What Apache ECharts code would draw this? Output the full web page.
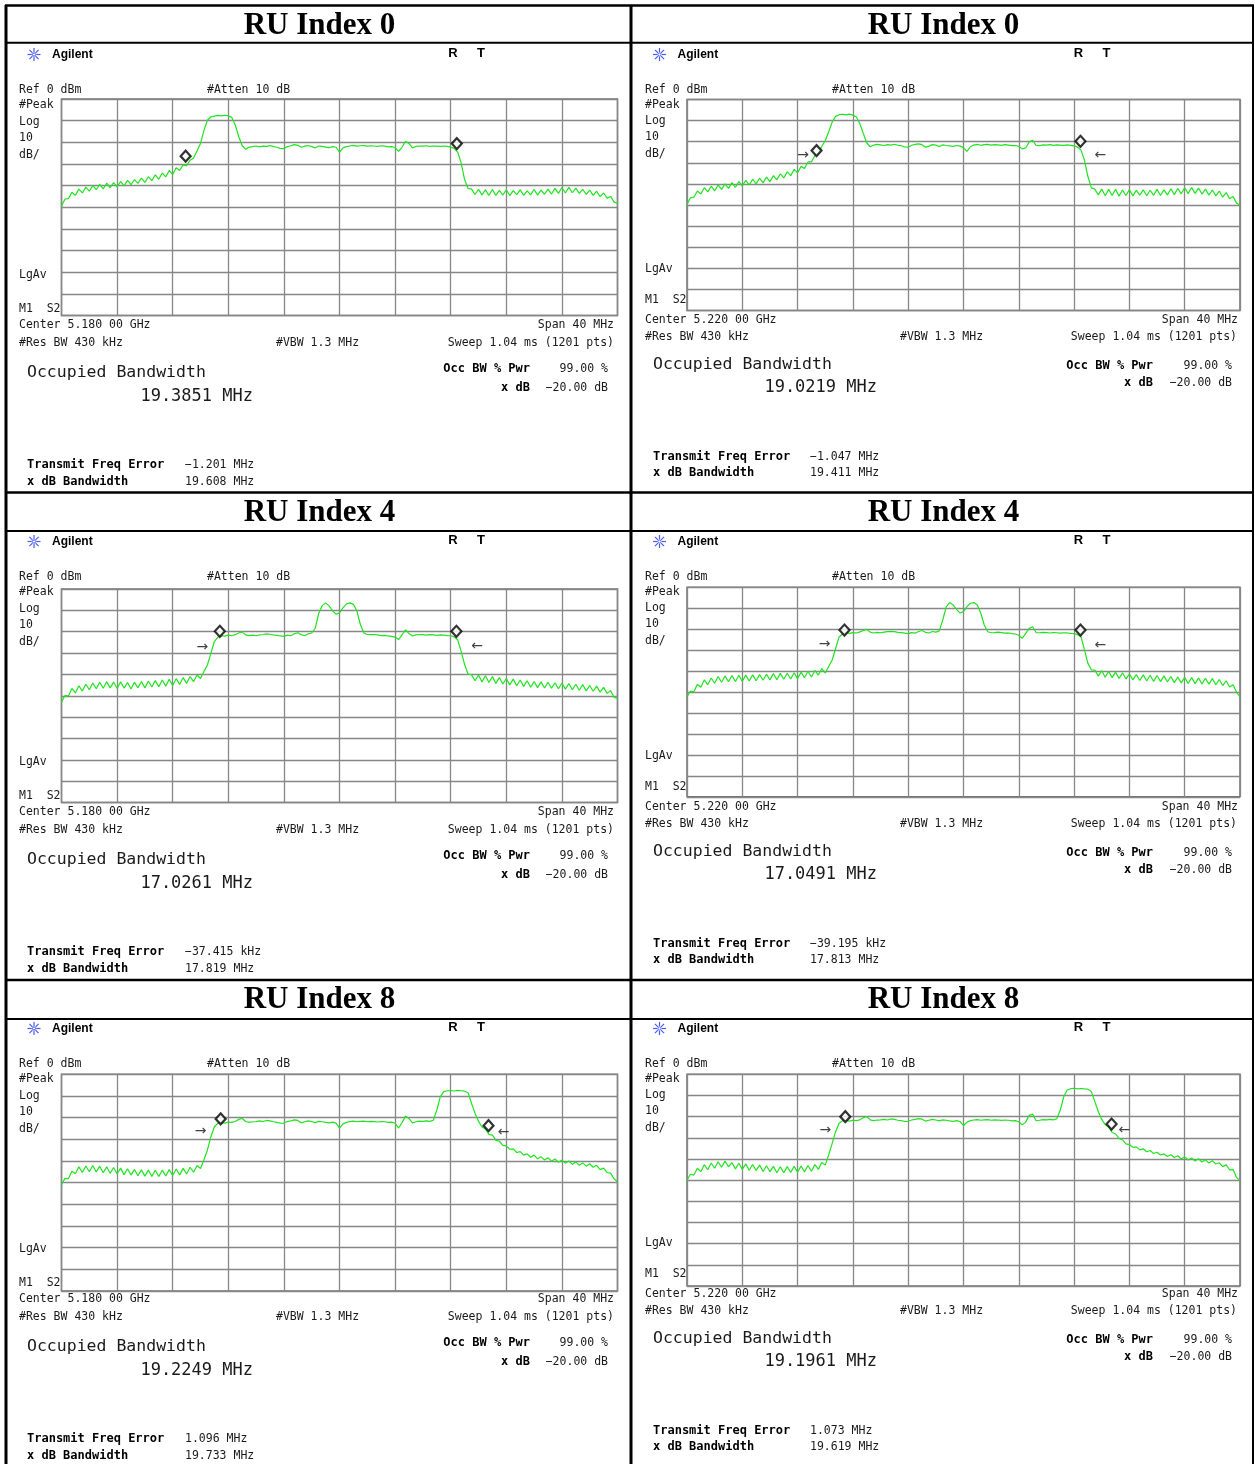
<!DOCTYPE html>
<html><head><meta charset="utf-8">
<script src="https://cdn.jsdelivr.net/npm/echarts/dist/echarts.min.js"></script>
<style>html,body{margin:0;padding:0;background:#fff}#c{width:1255px;height:1464px}</style>
</head><body><div id="c"></div>
<script>
// ---- sweep definition (40 MHz span, 0.25 MHz per stored point) ----
const FREQ_START = -20, FREQ_STEP = 0.25;
const X_MIN = -20, X_MAX = 20, X_INTERVAL = 4;     // MHz offset from center
const Y_MIN = -100, Y_MAX = 0, Y_INTERVAL = 10;     // dBm, Ref 0 dBm, 10 dB/div

// ---- panel texts ----
const TITLES = ['RU Index 0','RU Index 0','RU Index 4','RU Index 4','RU Index 8','RU Index 8'];
const CENTERS = ['Center 5.180 00 GHz','Center 5.220 00 GHz','Center 5.180 00 GHz','Center 5.220 00 GHz','Center 5.180 00 GHz','Center 5.220 00 GHz'];
const OCC_BW = ['19.3851 MHz','19.0219 MHz','17.0261 MHz','17.0491 MHz','19.2249 MHz','19.1961 MHz'];
const FREQ_ERR = ['\u22121.201 MHz','\u22121.047 MHz','\u221237.415 kHz','\u221239.195 kHz','1.096 MHz','1.073 MHz'];
const XDB_BW = ['19.608 MHz','19.411 MHz','17.819 MHz','17.813 MHz','19.733 MHz','19.619 MHz'];

// ---- traces (dBm), one value per 0.25 MHz from -20 to +20 MHz ----
const TRACE_RU0_L = [
-49.5,-46.2,-46.0,-43.1,-44.5,-41.6,-43.4,-40.7,-42.6,-40.0,-41.9,-39.4,-41.5,-38.9,-41.0,-38.6,-40.6,-38.1,-40.1,-37.6,
-39.6,-37.2,-39.0,-36.5,-38.5,-35.9,-37.7,-35.0,-37.1,-34.2,-36.0,-33.0,-34.9,-31.8,-33.0,-30.4,-30.8,-28.3,-27.2,-24.0,
-20.5,-14.5,-9.8,-8.2,-7.9,-7.6,-7.8,-7.5,-7.8,-8.5,-12.0,-17.3,-21.6,-23.2,-22.2,-22.0,-21.7,-22.1,-21.8,-21.9,
-21.5,-22.0,-22.3,-22.8,-22.9,-22.0,-21.6,-21.1,-21.4,-22.3,-21.8,-21.5,-22.0,-22.6,-21.7,-21.9,-22.2,-22.5,-22.0,-22.3,
-24.6,-22.6,-22.0,-21.7,-21.4,-21.8,-21.6,-21.5,-21.8,-21.6,-21.7,-21.9,-21.6,-21.8,-22.1,-22.0,-22.4,-24.2,-22.3,-19.6,
-20.5,-22.6,-21.9,-21.7,-21.8,-21.6,-21.9,-21.7,-21.8,-21.9,-21.7,-21.9,-22.2,-22.8,-24.5,-29.5,-37.2,-41.3,-41.6,-44.1,
-41.7,-44.3,-42.0,-44.6,-41.8,-44.5,-42.2,-44.4,-41.9,-44.6,-42.3,-44.2,-42.0,-44.5,-42.4,-44.3,-41.8,-44.4,-42.1,-44.0,
-41.6,-43.9,-41.3,-43.6,-40.9,-43.4,-40.8,-43.3,-41.2,-43.6,-41.7,-44.1,-42.1,-44.5,-42.6,-45.1,-43.4,-45.8,-45.0,-47.5,
-48.2];
const TRACE_RU0_R = [
-49.7,-46.6,-46.3,-43.4,-44.8,-41.8,-43.8,-41.1,-43.3,-40.5,-42.6,-40.0,-42.1,-39.4,-41.6,-38.9,-41.0,-38.3,-40.5,-37.8,
-40.0,-37.3,-39.5,-36.8,-38.9,-36.1,-38.1,-35.2,-37.2,-34.3,-36.1,-33.1,-34.7,-31.7,-32.7,-29.6,-29.6,-26.5,-25.4,-22.3,
-19.4,-15.3,-10.7,-8.0,-7.2,-7.0,-7.3,-6.9,-7.4,-8.3,-11.4,-16.1,-20.5,-22.4,-21.6,-21.3,-21.5,-21.8,-21.4,-21.6,
-21.2,-21.7,-21.9,-22.5,-22.6,-21.7,-21.3,-21.0,-21.4,-22.6,-22.1,-21.4,-21.6,-22.3,-21.5,-21.8,-22.0,-22.2,-21.8,-22.1,
-22.8,-24.6,-22.4,-21.6,-21.3,-21.7,-21.4,-21.3,-21.6,-21.4,-21.5,-21.7,-21.4,-21.6,-21.9,-21.8,-22.2,-23.4,-23.0,-20.1,
-19.3,-21.8,-21.9,-21.5,-21.6,-21.4,-21.7,-21.5,-21.6,-21.7,-21.5,-21.7,-22.0,-22.6,-24.0,-28.8,-36.5,-41.9,-42.5,-45.2,
-42.4,-45.6,-42.6,-45.5,-42.5,-45.8,-42.9,-45.5,-42.7,-45.7,-43.1,-45.3,-42.8,-45.6,-43.0,-45.4,-42.6,-45.5,-42.8,-45.2,
-42.3,-45.1,-42.2,-44.7,-41.8,-44.6,-41.7,-44.5,-42.0,-44.8,-42.5,-45.3,-42.9,-45.7,-43.4,-46.3,-44.1,-47.0,-46.0,-49.1,
-50.0];
const TRACE_RU4_L = [
-53.0,-49.9,-50.1,-46.6,-48.7,-45.3,-47.8,-44.6,-47.2,-44.0,-46.7,-43.7,-46.5,-43.4,-46.3,-43.6,-46.6,-43.5,-46.4,-43.8,
-46.8,-43.7,-46.2,-43.3,-46.3,-43.2,-45.9,-42.9,-45.8,-42.6,-45.5,-42.3,-45.2,-42.0,-44.7,-41.5,-44.2,-41.0,-43.4,-40.3,
-41.9,-38.6,-35.6,-30.0,-24.6,-22.5,-21.9,-22.1,-21.6,-21.9,-21.4,-20.6,-20.1,-21.5,-21.8,-21.6,-21.9,-21.5,-21.3,-21.0,
-21.2,-21.5,-21.7,-22.0,-22.2,-21.6,-21.9,-21.0,-20.5,-21.4,-21.9,-21.0,-20.6,-18.5,-11.5,-7.8,-6.5,-7.9,-10.2,-11.8,
-11.2,-8.8,-7.0,-6.5,-7.2,-10.3,-16.6,-20.6,-21.3,-21.4,-21.3,-21.5,-21.8,-21.7,-22.0,-22.2,-22.5,-23.7,-21.5,-19.1,
-20.9,-22.0,-21.5,-21.3,-21.4,-21.6,-21.4,-21.5,-21.7,-21.5,-21.6,-21.8,-21.9,-22.4,-23.8,-29.1,-35.4,-39.9,-40.1,-43.0,
-40.3,-43.5,-40.6,-43.8,-41.0,-44.2,-41.5,-44.5,-41.9,-44.9,-42.2,-45.3,-42.6,-45.6,-43.0,-46.0,-43.3,-46.2,-43.5,-46.4,
-43.7,-46.5,-43.9,-46.7,-44.0,-46.9,-44.3,-47.2,-44.6,-47.4,-44.8,-47.7,-45.2,-47.9,-45.5,-48.3,-46.1,-48.9,-47.6,-50.7,
-51.4];
const TRACE_RU4_R = [
-52.2,-49.6,-49.9,-46.3,-47.7,-44.2,-46.5,-43.3,-45.8,-42.6,-45.3,-42.3,-45.1,-42.1,-45.0,-42.0,-44.9,-41.9,-44.7,-41.8,
-44.6,-41.6,-44.4,-41.5,-44.2,-41.2,-44.1,-41.1,-43.9,-41.0,-43.8,-40.8,-43.6,-40.5,-43.2,-40.1,-42.8,-39.7,-41.9,-38.8,
-40.9,-37.8,-34.7,-29.2,-23.7,-22.3,-21.7,-22.0,-21.6,-21.8,-21.3,-20.6,-20.1,-21.4,-21.8,-21.5,-21.7,-21.4,-21.2,-21.0,
-21.2,-21.5,-21.6,-21.9,-22.1,-21.6,-21.9,-21.1,-20.6,-21.5,-21.8,-21.1,-21.4,-20.8,-15.6,-9.3,-7.3,-8.4,-10.5,-12.3,
-11.6,-9.2,-7.6,-7.3,-8.4,-12.4,-18.0,-21.2,-21.7,-21.6,-21.4,-21.6,-21.9,-21.8,-22.1,-22.3,-22.9,-24.4,-22.0,-19.6,
-18.8,-21.6,-21.7,-21.5,-21.6,-21.8,-21.6,-21.7,-21.9,-21.7,-21.8,-22.0,-22.1,-22.6,-23.6,-29.9,-36.3,-39.4,-39.5,-42.4,
-39.8,-42.9,-40.1,-43.1,-40.5,-43.5,-40.8,-43.8,-41.3,-44.2,-41.6,-44.5,-41.8,-44.7,-42.0,-44.9,-42.1,-45.0,-42.3,-45.2,
-42.6,-45.5,-42.8,-45.6,-43.0,-45.9,-43.1,-46.0,-43.3,-46.1,-43.4,-46.2,-43.6,-46.5,-44.0,-46.9,-44.6,-47.6,-46.5,-50.1,
-52.2];
const TRACE_RU8_L = [
-51.0,-48.0,-48.1,-44.7,-45.9,-42.7,-45.3,-42.3,-45.0,-42.1,-45.1,-42.4,-45.4,-42.7,-45.7,-43.0,-46.0,-43.3,-46.3,-43.6,
-46.5,-43.9,-46.8,-44.1,-47.0,-44.2,-47.1,-44.3,-47.2,-44.2,-46.9,-44.0,-46.7,-43.7,-46.4,-43.4,-46.0,-42.9,-45.2,-42.1,
-43.5,-39.4,-34.9,-28.8,-24.2,-22.6,-22.3,-22.5,-22.0,-22.2,-21.8,-20.8,-20.4,-21.8,-22.2,-21.9,-21.8,-21.5,-21.8,-21.3,
-21.5,-21.9,-22.2,-22.6,-22.5,-21.8,-21.5,-21.0,-21.3,-22.4,-21.9,-21.5,-21.8,-22.3,-21.7,-21.9,-22.2,-22.4,-22.1,-22.5,
-24.8,-22.9,-22.2,-21.8,-21.6,-21.9,-21.7,-21.6,-21.9,-21.7,-21.8,-22.0,-21.8,-21.9,-22.2,-22.1,-22.6,-24.8,-22.3,-19.3,
-20.4,-22.4,-21.9,-21.6,-21.7,-21.5,-21.7,-21.2,-16.6,-10.4,-8.0,-7.6,-7.5,-7.7,-7.4,-7.6,-7.8,-8.5,-13.4,-18.0,
-21.7,-24.3,-25.2,-27.8,-28.1,-30.4,-30.9,-32.8,-33.0,-34.6,-34.4,-36.1,-35.7,-37.3,-36.7,-38.3,-37.3,-39.0,-38.0,-39.6,
-38.5,-40.1,-39.1,-40.6,-39.6,-41.0,-40.0,-41.6,-40.4,-42.0,-40.9,-42.4,-41.3,-42.9,-42.0,-44.0,-43.3,-45.3,-45.6,-48.2,
-49.6];
const TRACE_RU8_R = [
-49.9,-47.2,-47.6,-44.4,-46.0,-42.7,-45.1,-41.9,-44.4,-41.3,-43.9,-41.0,-43.7,-41.7,-44.7,-42.0,-44.9,-42.3,-45.3,-42.6,
-45.4,-42.9,-45.9,-43.2,-46.0,-43.5,-46.5,-43.7,-46.5,-43.6,-46.4,-43.5,-46.2,-43.3,-46.1,-43.1,-45.8,-42.6,-44.9,-41.7,
-42.9,-38.0,-32.6,-27.1,-23.1,-22.0,-21.8,-22.1,-21.7,-21.9,-21.5,-20.5,-20.0,-21.5,-21.9,-21.6,-21.5,-21.3,-21.6,-21.1,
-21.3,-21.7,-21.9,-22.3,-22.2,-21.6,-21.3,-20.9,-21.2,-22.1,-21.7,-21.3,-21.6,-22.0,-21.5,-21.7,-22.0,-22.2,-21.9,-22.3,
-24.3,-22.6,-21.9,-21.6,-21.4,-21.7,-21.5,-21.4,-21.7,-21.5,-21.6,-21.8,-21.6,-21.7,-22.0,-21.9,-22.4,-23.9,-22.6,-19.4,
-18.8,-21.9,-21.7,-21.4,-21.5,-21.3,-21.5,-21.0,-16.9,-10.6,-7.4,-6.8,-6.6,-6.9,-6.7,-6.9,-7.0,-8.2,-12.9,-17.6,
-21.3,-23.8,-24.9,-27.5,-28.2,-30.3,-31.0,-32.9,-33.2,-34.5,-34.3,-35.7,-35.2,-36.6,-36.0,-37.4,-36.8,-38.1,-37.6,-38.8,
-38.0,-39.3,-38.5,-40.0,-39.0,-40.5,-39.5,-41.0,-39.9,-41.4,-40.4,-41.9,-40.8,-42.4,-41.8,-43.6,-42.8,-45.1,-45.0,-48.7,
-50.2];

// ---- markers [MHz, dBm] and band-edge arrows [MHz, dBm, glyph] ----
const MARKERS_RU0_L = [[-11.07,-26.4],[8.44,-20.6]];
const MARKERS_RU0_R = [[-10.63,-24.2],[8.46,-19.8]];
const MARKERS_RU4_L = [[-8.61,-19.8],[8.41,-19.8]];
const MARKERS_RU4_R = [[-8.61,-20.4],[8.46,-20.4]];
const MARKERS_RU8_L = [[-8.55,-20.6],[10.72,-23.7]];
const MARKERS_RU8_R = [[-8.55,-20.0],[10.71,-23.5]];
const ARROWS_RU0_L = [];
const ARROWS_RU0_R = [[-11.6,-26.4,'\u2192'],[9.9,-26.4,'\u2190']];
const ARROWS_RU4_L = [[-9.86,-27.3,'\u2192'],[9.9,-26.8,'\u2190']];
const ARROWS_RU4_R = [[-10.05,-27.0,'\u2192'],[9.9,-27.5,'\u2190']];
const ARROWS_RU8_L = [[-10.0,-26.5,'\u2192'],[11.8,-26.9,'\u2190']];
const ARROWS_RU8_R = [[-10.0,-26.3,'\u2192'],[11.63,-26.3,'\u2190']];

const TRACES = [TRACE_RU0_L,TRACE_RU0_R,TRACE_RU4_L,TRACE_RU4_R,TRACE_RU8_L,TRACE_RU8_R];
const MARKERS = [MARKERS_RU0_L,MARKERS_RU0_R,MARKERS_RU4_L,MARKERS_RU4_R,MARKERS_RU8_L,MARKERS_RU8_R];
const ARROWS = [ARROWS_RU0_L,ARROWS_RU0_R,ARROWS_RU4_L,ARROWS_RU4_R,ARROWS_RU8_L,ARROWS_RU8_R];

// ---- layout ----
const GRIDS = [
  {left:61.5, top:99,    width:556, height:216.5},
  {left:687,  top:99.5,  width:553, height:211},
  {left:61.5, top:589,   width:556, height:213.5},
  {left:687,  top:587.3, width:553, height:209.5},
  {left:61.5, top:1074.3,width:556, height:216.7},
  {left:687,  top:1074.3,width:553, height:211.7}
];
const ROW_TEXT_OFF = [0, 487, 974];
const TITLE_Y = [25.5, 513, 1000];
const MONO = '"DejaVu Sans Mono","Liberation Mono",monospace';
const FONTS = {s:'11.5px '+MONO, b:'bold 12px '+MONO, L:'16.5px '+MONO, N:'17px '+MONO};

function tpl(side, i){
  if (side === 0) return [
    ['Ref 0 dBm',19,90],['#Atten 10 dB',207,90],['#Peak',19,105],['Log',19,122],['10',19,138],['dB/',19,155],
    ['LgAv',19,275],['M1  S2',19,309],
    [CENTERS[i],19,325],['Span 40 MHz',614,325,'right'],['#Res BW 430 kHz',19,343],['#VBW 1.3 MHz',276,343],
    ['Sweep 1.04 ms (1201 pts)',614,343,'right'],
    ['Occupied Bandwidth',27,373,'left','L'],[OCC_BW[i],253,397,'right','N'],
    ['Occ BW % Pwr',530,369,'right','b'],['99.00 %',608,369,'right'],['x dB',530,388,'right','b'],['\u221220.00 dB',608,388,'right'],
    ['Transmit Freq Error',27,465,'left','b'],[FREQ_ERR[i],185,465],['x dB Bandwidth',27,482,'left','b'],[XDB_BW[i],185,482]
  ];
  return [
    ['Ref 0 dBm',645,90],['#Atten 10 dB',832,90],['#Peak',645,105],['Log',645,121],['10',645,137],['dB/',645,154],
    ['LgAv',645,269],['M1  S2',645,300],
    [CENTERS[i],645,320],['Span 40 MHz',1238,320,'right'],['#Res BW 430 kHz',645,337],['#VBW 1.3 MHz',900,337],
    ['Sweep 1.04 ms (1201 pts)',1237,337,'right'],
    ['Occupied Bandwidth',653,365,'left','L'],[OCC_BW[i],877,388,'right','N'],
    ['Occ BW % Pwr',1153,366,'right','b'],['99.00 %',1232,366,'right'],['x dB',1153,383,'right','b'],['\u221220.00 dB',1232,383,'right'],
    ['Transmit Freq Error',653,457,'left','b'],[FREQ_ERR[i],810,457],['x dB Bandwidth',653,473,'left','b'],[XDB_BW[i],810,473]
  ];
}

function txt(t, x, y, align, kind){
  kind = kind || 's';
  return {type:'text', x:x, y:y, silent:true, z:20,
    style:{text:t, font:FONTS[kind], fill:(kind==='b')?'#000':'#1a1a1a', align:align||'left', verticalAlign:'middle'}};
}
function star(cx, cy){
  const out = [];
  for (let k=0;k<8;k++){
    const a = k*Math.PI/4;
    out.push({type:'line', silent:true, z:20, shape:{x1:cx+Math.cos(a)*2.2, y1:cy+Math.sin(a)*2.2, x2:cx+Math.cos(a)*6.5, y2:cy+Math.sin(a)*6.5},
      style:{stroke:'#4a5cf0', lineWidth:1.2}});
  }
  out.push({type:'circle', silent:true, z:20, shape:{cx:cx, cy:cy, r:1.6}, style:{fill:'#fff', stroke:'#4a5cf0', lineWidth:1}});
  return out;
}
function hline(x1,x2,y,w){return {type:'line',silent:true,z:30,shape:{x1:x1,y1:y,x2:x2,y2:y},style:{stroke:'#000',lineWidth:w}};}
function vline(x,y1,y2,w){return {type:'line',silent:true,z:30,shape:{x1:x,y1:y1,x2:x,y2:y2},style:{stroke:'#000',lineWidth:w}};}

const graphics = [];
// table frame
graphics.push(hline(5,1254,5.5,2.5));
graphics.push(vline(6,5,1464,3));
graphics.push(vline(1253,5,1464,2));
graphics.push(vline(631,5,1464,3));
[42.7,531,1019].forEach(y=>graphics.push(hline(5,1254,y,2)));
[492.5,980].forEach(y=>graphics.push(hline(5,1254,y,2.5)));

for (let i=0;i<6;i++){
  const side = i%2, row = Math.floor(i/2), dy = ROW_TEXT_OFF[row];
  graphics.push({type:'text', x: side?943.5:319.5, y: TITLE_Y[row], silent:true, z:20,
    style:{text:TITLES[i], font:'bold 31px "Liberation Serif","Times New Roman",serif', fill:'#000', align:'center', verticalAlign:'middle'}});
  const hx = side?625.5:0;
  star(34+hx, 54.5+dy).forEach(g=>graphics.push(g));
  graphics.push({type:'text', x:52+hx, y:54.5+dy, silent:true, z:20,
    style:{text:'Agilent', font:'bold 12px "Liberation Sans",Arial,sans-serif', fill:'#000', align:'left', verticalAlign:'middle'}});
  graphics.push({type:'text', x:455+hx-2, y:53.5+dy, silent:true, z:20,
    style:{text:'R', font:'bold 13px "Liberation Sans",Arial,sans-serif', fill:'#000', align:'center', verticalAlign:'middle'}});
  graphics.push({type:'text', x:483+hx-2, y:53.5+dy, silent:true, z:20,
    style:{text:'T', font:'bold 13px "Liberation Sans",Arial,sans-serif', fill:'#000', align:'center', verticalAlign:'middle'}});
  tpl(side,i).forEach(e=>graphics.push(txt(e[0], e[1], e[2]+dy, e[3], e[4])));
}

const grid=[], xAxis=[], yAxis=[], series=[];
for (let i=0;i<6;i++){
  grid.push(Object.assign({show:true, borderColor:'#707070', borderWidth:1.5, backgroundColor:'#fff'}, GRIDS[i]));
  xAxis.push({type:'value', gridIndex:i, min:X_MIN, max:X_MAX, interval:X_INTERVAL,
    axisLabel:{show:false}, axisTick:{show:false}, axisLine:{show:false},
    splitLine:{show:true, lineStyle:{color:'#878787', width:1.3}}});
  yAxis.push({type:'value', gridIndex:i, min:Y_MIN, max:Y_MAX, interval:Y_INTERVAL,
    axisLabel:{show:false}, axisTick:{show:false}, axisLine:{show:false},
    splitLine:{show:true, lineStyle:{color:'#878787', width:1.3}}});
  series.push({type:'line', xAxisIndex:i, yAxisIndex:i, silent:true, animation:false,
    data: TRACES[i].map((v,k)=>[FREQ_START+k*FREQ_STEP, v]),
    showSymbol:false, symbol:'none', lineStyle:{color:'#1fe41f', width:1.2}, z:3});
  series.push({type:'scatter', xAxisIndex:i, yAxisIndex:i, silent:true, animation:false,
    data: MARKERS[i], symbol:'diamond', symbolSize:[10,11],
    itemStyle:{color:'#fff', borderColor:'#000', borderWidth:2.2}, z:5});
  series.push({type:'scatter', xAxisIndex:i, yAxisIndex:i, silent:true, animation:false,
    data: ARROWS[i].map(a=>({value:[a[0],a[1]], name:a[2]})), symbolSize:1,
    itemStyle:{color:'rgba(0,0,0,0)'},
    label:{show:true, position:'inside', formatter:p=>p.name, fontSize:14, color:'#111', fontFamily:'"DejaVu Sans",sans-serif'}, z:5});
}

const chart = echarts.init(document.getElementById('c'), null, {renderer:'canvas'});
chart.setOption({animation:false, backgroundColor:'#fff', grid, xAxis, yAxis, series, graphic:{elements:graphics}});
</script>
</body></html>
